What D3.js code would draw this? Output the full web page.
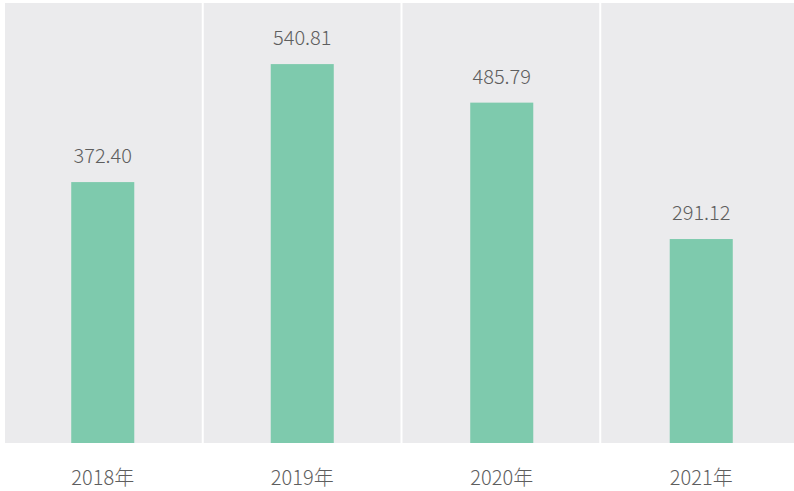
<!DOCTYPE html>
<meta charset="utf-8">
<style>
body { margin: 0; background: #fff; }
text { font-family: "Noto Sans CJK SC", "Noto Sans", sans-serif; font-weight: 200; fill: #5e5e5e; }
</style>
<svg width="794" height="491"></svg>
<script src="https://d3js.org/d3.v7.min.js"></script>
<script>
var years = ["2018年", "2019年", "2020年", "2021年"];
var values = [372.40, 540.81, 485.79, 291.12];

var svg = d3.select("svg"),
    top0 = 3, bottom = 443;

var x = d3.scaleBand().domain(years).range([4, 799]);
var bar = d3.scaleBand().domain(years).range([3, 801]).paddingInner(0.684).paddingOuter(0.342);
var y = d3.scaleLinear().domain([0, 628]).range([bottom, top0]);

// panel backgrounds
svg.selectAll(".panel")
  .data(years)
  .enter().append("rect")
    .attr("class", "panel")
    .attr("x", function(d) { return x(d) + 1; })
    .attr("y", top0)
    .attr("width", x.bandwidth() - 2)
    .attr("height", bottom - top0)
    .attr("fill", "#ebebed");

svg.selectAll(".bar")
  .data(values)
  .enter().append("rect")
    .attr("class", "bar")
    .attr("x", function(d, i) { return bar(years[i]); })
    .attr("y", function(d) { return y(d); })
    .attr("width", bar.bandwidth())
    .attr("height", function(d) { return bottom - y(d); })
    .attr("fill", "#7ecaad");

svg.selectAll(".val")
  .data(values)
  .enter().append("text")
    .attr("class", "val")
    .attr("x", function(d, i) { return bar(years[i]) + bar.bandwidth() / 2; })
    .attr("y", function(d) { return y(d) - 19; })
    .attr("text-anchor", "middle")
    .attr("font-size", 20)
    .text(function(d) { return d.toFixed(2); });

var ax = svg.append("g")
    .attr("transform", "translate(0," + bottom + ")")
    .call(d3.axisBottom(bar).tickSize(0).tickPadding(0));
ax.select(".domain").remove();
ax.attr("font-family", null).attr("font-size", null);
ax.selectAll("text")
    .attr("y", 42)
    .attr("dy", 0)
    .attr("font-size", 20);
</script>
